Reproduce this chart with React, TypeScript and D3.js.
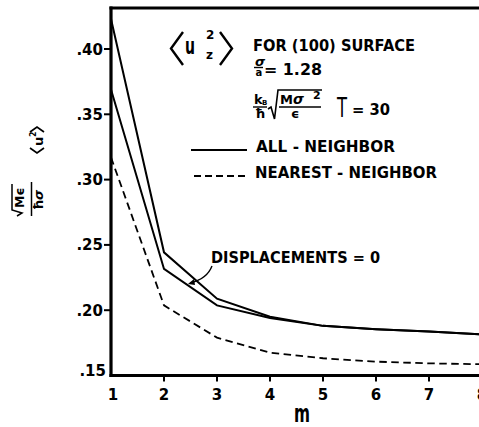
import React from "react";
import * as d3 from "d3";

const mValues = [1, 2, 3, 4, 5, 6, 7, 8];
const allNeighbor = [0.423, 0.2443, 0.2088, 0.195, 0.188, 0.1855, 0.1836, 0.1815];
const displacementsZero = [0.369, 0.2316, 0.2037, 0.194, 0.188, 0.1854, 0.1836, 0.1815];
const nearestNeighbor = [0.317, 0.2037, 0.179, 0.1675, 0.1632, 0.1606, 0.1593, 0.1586];
const yTicks = [0.15, 0.2, 0.25, 0.3, 0.35, 0.4];
const yTickLabels = [".15", ".20", ".25", ".30", ".35", ".40"];
const xTicks = [1, 2, 3, 4, 5, 6, 7, 8];

const W = 479;
const H = 427;
const FONT = "'DejaVu Sans', sans-serif";

export default function App() {
  const x = d3.scaleLinear().domain([1, 8]).range([111, 482]);
  const y = d3.scaleLinear().domain([0.15, 0.4]).range([375.5, 49]);
  const line = d3
    .line<number>()
    .x((_, i) => x(mValues[i]))
    .y((d) => y(d));

  const axisLeftX = x(1);
  const axisBottomY = y(0.15);
  const topY = 8;

  return (
    <svg
      width={W}
      height={H}
      style={{ position: "absolute", left: 0, top: 0, background: "#fff" }}
      fontFamily={FONT}
      fontWeight="bold"
    >
      <rect x={0} y={0} width={W} height={H} fill="#fff" />
      {/* frame */}
      <line x1={axisLeftX} y1={topY - 1.5} x2={axisLeftX} y2={axisBottomY + 1.5} stroke="#000" strokeWidth={3.2} />
      <line x1={axisLeftX - 1.5} y1={topY} x2={W} y2={topY} stroke="#000" strokeWidth={3} />
      <line x1={axisLeftX - 1.5} y1={axisBottomY} x2={W} y2={axisBottomY} stroke="#000" strokeWidth={3} />

      {/* y ticks */}
      {yTicks.map((t, i) => (
        <g key={"yt" + i}>
          {t > 0.15 && (
            <line x1={axisLeftX - 7} x2={axisLeftX} y1={y(t)} y2={y(t)} stroke="#000" strokeWidth={2} />
          )}
          <text
            x={t > 0.15 ? axisLeftX - 8 : axisLeftX - 5}
            y={y(t) + (t > 0.15 ? 5.5 : 0)}
            textAnchor="end"
            fontSize={15}
          >
            {yTickLabels[i]}
          </text>
        </g>
      ))}

      {/* x ticks */}
      {xTicks.map((t) => (
        <g key={"xt" + t}>
          {t > 1 && (
            <line x1={x(t)} x2={x(t)} y1={axisBottomY} y2={axisBottomY + 6} stroke="#000" strokeWidth={2} />
          )}
          <text x={x(t) + (t === 1 ? 2 : 0)} y={400} textAnchor="middle" fontSize={15}>
            {t}
          </text>
        </g>
      ))}
      <text x={302} y={422} textAnchor="middle" fontSize={24} textLength={16} lengthAdjust="spacingAndGlyphs">
        m
      </text>

      {/* data lines */}
      <path d={line(allNeighbor) || ""} fill="none" stroke="#000" strokeWidth={2} />
      <path d={line(displacementsZero) || ""} fill="none" stroke="#000" strokeWidth={2} />
      <path d={line(nearestNeighbor) || ""} fill="none" stroke="#000" strokeWidth={1.8} strokeDasharray="7.5,4.5" />

      {/* title <u_z^2> */}
      <path d="M183,32 L171,48.5 L183,65" fill="none" stroke="#000" strokeWidth={2.4} />
      <path d="M220,32 L232,48.5 L220,65" fill="none" stroke="#000" strokeWidth={2.4} />
      <text x={185} y={54} fontSize={23} textLength={10} lengthAdjust="spacingAndGlyphs">u</text>
      <text x={206} y={39} fontSize={12}>2</text>
      <text x={206} y={59} fontSize={12}>z</text>

      <text x={253} y={51} fontSize={15} textLength={162} lengthAdjust="spacingAndGlyphs">
        FOR (100) SURFACE
      </text>

      {/* sigma / a = 1.28 */}
      <text x={255} y={65.5} fontSize={13} fontStyle="italic">σ</text>
      <line x1={254} x2={263} y1={67.5} y2={67.5} stroke="#000" strokeWidth={1.4} />
      <text x={255.5} y={76} fontSize={10}>a</text>
      <text x={264} y={75} fontSize={15} textLength={58} lengthAdjust="spacingAndGlyphs">= 1.28</text>

      {/* k_B / hbar sqrt(M sigma^2 / eps) T = 30 */}
      <text x={254} y={104} fontSize={13}>k</text>
      <text x={262} y={105} fontSize={7}>B</text>
      <line x1={253} x2={267} y1={107} y2={107} stroke="#000" strokeWidth={1.4} />
      <text x={255} y={118} fontSize={13}>ħ</text>
      <path d="M268,109 L271,107 L274.5,119 L278,90 L322,90" fill="none" stroke="#000" strokeWidth={1.6} />
      <text x={280} y={104} fontSize={13}>M</text>
      <text x={293} y={104} fontSize={14} fontStyle="italic">σ</text>
      <text x={313} y={99} fontSize={11}>2</text>
      <line x1={279} x2={321} y1={107} y2={107} stroke="#000" strokeWidth={1.4} />
      <text x={291} y={118} fontSize={13}>ϵ</text>
      <text x={337} y={117} fontSize={27} fontWeight="normal" textLength={10} lengthAdjust="spacingAndGlyphs">T</text>
      <text x={352} y={115} fontSize={15} textLength={38} lengthAdjust="spacingAndGlyphs">= 30</text>

      {/* legend */}
      <line x1={191} x2={247} y1={150} y2={150} stroke="#000" strokeWidth={2} />
      <text x={256} y={152} fontSize={15} textLength={139} lengthAdjust="spacingAndGlyphs">ALL - NEIGHBOR</text>
      <line x1={194} x2={248} y1={176} y2={176} stroke="#000" strokeWidth={1.8} strokeDasharray="7,4" />
      <text x={255} y={178} fontSize={15} textLength={182} lengthAdjust="spacingAndGlyphs">NEAREST - NEIGHBOR</text>

      {/* annotation */}
      <text x={211} y={263} fontSize={15} textLength={169} lengthAdjust="spacingAndGlyphs">DISPLACEMENTS = 0</text>
      <path d="M212,266 Q207,279 190,283" fill="none" stroke="#000" strokeWidth={1.4} />
      <path d="M188,284 L194,279 L195,285 Z" fill="#000" />

      {/* y label (rotated) */}
      <g transform="translate(0,220) rotate(-90)">
        <path d="M4,17 L7,22 L10,12 L36,12" fill="none" stroke="#000" strokeWidth={1.5} />
        <text x={12} y={24} fontSize={12.5}>Mϵ</text>
        <line x1={4} x2={38} y1={31.5} y2={31.5} stroke="#000" strokeWidth={1.5} />
        <text x={10} y={43} fontSize={13}>ħ</text>
        <text x={20} y={43} fontSize={13} fontStyle="italic">σ</text>
        <path d="M72,30 L67,37 L72,44" fill="none" stroke="#000" strokeWidth={1.7} />
        <text x={74} y={43} fontSize={13}>u</text>
        <text x={83} y={36} fontSize={8}>2</text>
        <path d="M88,30 L93,37 L88,44" fill="none" stroke="#000" strokeWidth={1.7} />
      </g>
    </svg>
  );
}
